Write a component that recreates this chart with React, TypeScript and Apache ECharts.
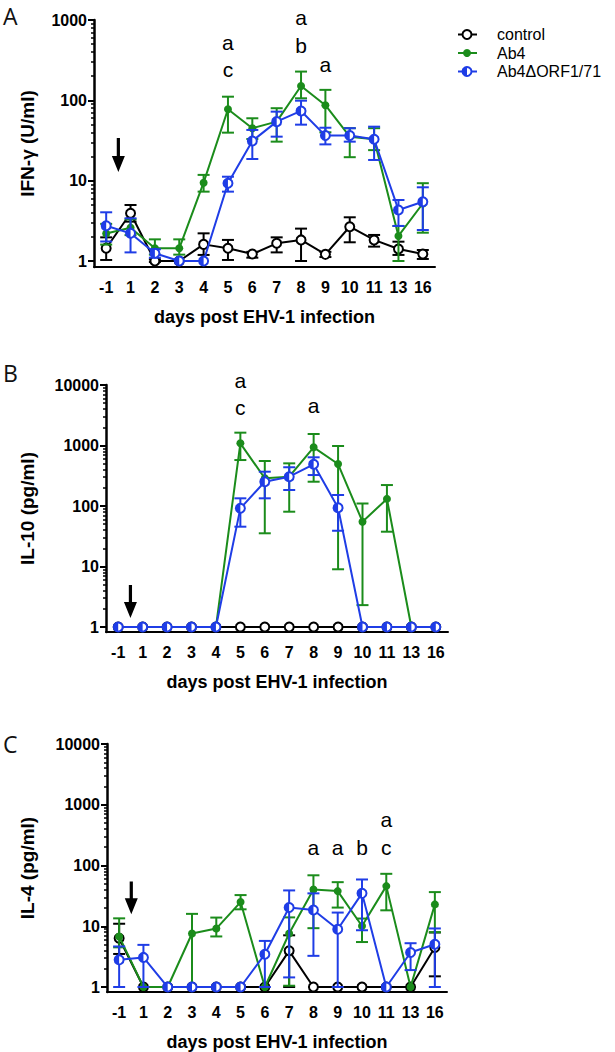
import React, { useEffect, useRef } from 'react';
import * as echarts from 'echarts';

const FONT = '"Liberation Sans", Arial, sans-serif';

const days = ['-1', '1', '2', '3', '4', '5', '6', '7', '8', '9', '10', '11', '13', '16'];
const groupNames = ['control', 'Ab4', 'Ab4ΔORF1/71'];
const groupColors = ['#000000', '#1b8c1b', '#1f3de6'];
const xAxisName = 'days post EHV-1 infection';
const panelLetters = ['A', 'B', 'C'];
const yAxisNames = ['IFN-γ (U/ml)', 'IL-10 (pg/ml)', 'IL-4 (pg/ml)'];

// ---- Panel A: IFN-γ ----
const ifnTicks = [1, 10, 100, 1000];
const ifnControlMean = [1.44, 3.93, 1.0, 1.0, 1.61, 1.44, 1.22, 1.66, 1.83, 1.21, 2.67, 1.83, 1.41, 1.22];
const ifnControlLow = [1.03, 3.09, 0.97, 1.0, 1.19, 1.03, 1.1, 1.28, 1.0, 1.12, 1.71, 1.51, 1.19, 1.06];
const ifnControlHigh = [1.97, 4.98, 1.05, 1.0, 2.21, 1.83, 1.3, 1.97, 2.53, 1.3, 3.5, 2.11, 1.74, 1.37];
const ifnAb4Mean = [2.2, 2.6, 1.44, 1.44, 9.44, 77.4, 44.9, 54.3, 151, 86.9, 35.3, 32.8, 2.05, 5.2];
const ifnAb4Low = [1.6, 2.1, 1.2, 1.2, 7.3, 39.6, 33, 30.6, 106, 40, 19.6, 24, 1.0, 2.25];
const ifnAb4High = [2.9, 3.3, 1.86, 1.86, 11.8, 111, 59.8, 79.8, 228, 135, 45, 45, 2.73, 9.3];
const ifnMutMean = [2.75, 2.21, 1.25, 1.0, 1.0, 9.28, 31.2, 54.3, 73.8, 36.4, 36.4, 32.8, 4.32, 5.47];
const ifnMutLow = [1.75, 1.28, 1.1, 1.0, 1.0, 7.3, 18.6, 35.3, 49.8, 28.3, 30.6, 18.1, 2.73, 2.43];
const ifnMutHigh = [4.04, 3.4, 1.4, 1.0, 1.0, 11.2, 42.8, 72.3, 99, 45.6, 45, 47, 5.75, 8.27];
const ifnNoteDays = ['5', '5', '8', '8', '9'];
const ifnNoteValues = [519, 240, 1062, 476, 276];
const ifnNoteTexts = ['a', 'c', 'a', 'b', 'a'];
const ifnArrow = [34, 12.8];

// ---- Panel B: IL-10 ----
const il10Ticks = [1, 10, 100, 1000, 10000];
const il10ControlMean = [1, 1, 1, 1, 1, 1, 1, 1, 1, 1, 1, 1, 1, 1];
const il10ControlLow = [1, 1, 1, 1, 1, 1, 1, 1, 1, 1, 1, 1, 1, 1];
const il10ControlHigh = [1, 1, 1, 1, 1, 1, 1, 1, 1, 1, 1, 1, 1, 1];
const il10Ab4Mean = [1, 1, 1, 1, 1, 1087, 287, 305, 933, 494, 55, 131, 1, 1];
const il10Ab4Low = [1, 1, 1, 1, 1, 575, 35.4, 80.5, 252, 9.0, 2.3, 37.6, 1, 1];
const il10Ab4High = [1, 1, 1, 1, 1, 1630, 554, 507, 1550, 981, 110, 222, 1, 1];
const il10MutMean = [1, 1, 1, 1, 1, 91.5, 252, 305, 489, 93.7, 1, 1, 1, 1];
const il10MutLow = [1, 1, 1, 1, 1, 45.5, 134, 184, 325, 39, 1, 1, 1, 1];
const il10MutHigh = [1, 1, 1, 1, 1, 134, 369, 437, 638, 152, 1, 1, 1, 1];
const il10NoteDays = ['5', '5', '8'];
const il10NoteValues = [11780, 4217, 4670];
const il10NoteTexts = ['a', 'c', 'a'];
const il10Arrow = [4.94, 1.41];

// ---- Panel C: IL-4 ----
const il4Ticks = [1, 10, 100, 1000, 10000];
const il4ControlMean = [6.36, 1, 1, 1, 1, 1, 1, 3.94, 1, 1, 1, 1, 1, 4.47];
const il4ControlLow = [3.5, 1, 1, 1, 1, 1, 1, 1, 1, 1, 1, 1, 1, 1.5];
const il4ControlHigh = [11, 1, 1, 1, 1, 1, 1, 7.1, 1, 1, 1, 1, 1, 7.9];
const il4Ab4Mean = [6.8, 1, 1, 7.6, 9.17, 25, 1, 7.6, 40.4, 37.9, 10.1, 45.8, 1, 22.9];
const il4Ab4Low = [4.5, 1, 1, 1, 6.8, 19, 1, 1.05, 9.3, 20.3, 5.5, 18.3, 1, 8];
const il4Ab4High = [13.5, 1, 1, 16, 13.9, 32.6, 1, 14, 69, 53.2, 13.4, 73, 1, 36.5];
const il4MutMean = [2.8, 3.07, 1, 1, 1, 1, 3.47, 20.3, 18.5, 8.93, 34.8, 1, 3.7, 5.07];
const il4MutLow = [1, 1, 1, 1, 1, 1, 1, 1.44, 3.26, 1, 8.6, 1, 1.9, 1];
const il4MutHigh = [4.65, 4.94, 1, 1, 1, 1, 5.74, 38.9, 34.8, 16.8, 58.9, 1, 5.26, 9.2];
const il4NoteDays = ['8', '9', '10', '11', '11'];
const il4NoteValues = [195, 195, 195, 568, 195];
const il4NoteTexts = ['a', 'a', 'b', 'a', 'c'];
const il4Arrow = [54.7, 15.7];

const panels = [
  {
    ticks: ifnTicks,
    groups: [
      [ifnControlMean, ifnControlLow, ifnControlHigh],
      [ifnAb4Mean, ifnAb4Low, ifnAb4High],
      [ifnMutMean, ifnMutLow, ifnMutHigh],
    ],
    noteDays: ifnNoteDays, noteValues: ifnNoteValues, noteTexts: ifnNoteTexts, arrow: ifnArrow,
  },
  {
    ticks: il10Ticks,
    groups: [
      [il10ControlMean, il10ControlLow, il10ControlHigh],
      [il10Ab4Mean, il10Ab4Low, il10Ab4High],
      [il10MutMean, il10MutLow, il10MutHigh],
    ],
    noteDays: il10NoteDays, noteValues: il10NoteValues, noteTexts: il10NoteTexts, arrow: il10Arrow,
  },
  {
    ticks: il4Ticks,
    groups: [
      [il4ControlMean, il4ControlLow, il4ControlHigh],
      [il4Ab4Mean, il4Ab4Low, il4Ab4High],
      [il4MutMean, il4MutLow, il4MutHigh],
    ],
    noteDays: il4NoteDays, noteValues: il4NoteValues, noteTexts: il4NoteTexts, arrow: il4Arrow,
  },
];

// layout (pixels)
const layout = [
  { left: 94, top: 20, width: 341, height: 247, min: 0.842, nameGap: 57, letterY: 17 },
  { left: 106, top: 385, width: 342, height: 247, min: 0.827, nameGap: 69, letterY: 374 },
  { left: 107, top: 744, width: 340, height: 249, min: 0.828, nameGap: 70, letterY: 745 },
];

function minorTickValues(max: number): number[] {
  const out: number[] = [];
  for (let d = 1; d < max; d *= 10) {
    for (let k = 2; k <= 9; k++) out.push(d * k);
  }
  return out;
}

function errRender(color: string) {
  return (params: any, api: any) => {
    const x = api.value(0);
    const p1 = api.coord([x, api.value(1)]);
    const p2 = api.coord([x, api.value(2)]);
    const hw = 6;
    const st = { stroke: color, lineWidth: 2 };
    return {
      type: 'group',
      children: [
        { type: 'line', shape: { x1: p1[0], y1: p1[1], x2: p2[0], y2: p2[1] }, style: st },
        { type: 'line', shape: { x1: p1[0] - hw, y1: p1[1], x2: p1[0] + hw, y2: p1[1] }, style: st },
        { type: 'line', shape: { x1: p2[0] - hw, y1: p2[1], x2: p2[0] + hw, y2: p2[1] }, style: st },
      ],
    };
  };
}

function buildOption() {
  const grid: any[] = [];
  const xAxis: any[] = [];
  const yAxis: any[] = [];
  const series: any[] = [];
  const graphic: any[] = [];

  panels.forEach((p, i) => {
    const L = layout[i];
    const max = p.ticks[p.ticks.length - 1];
    grid.push({ left: L.left, top: L.top, width: L.width, height: L.height, containLabel: false });
    xAxis.push({
      type: 'category', gridIndex: i, data: days, boundaryGap: true,
      name: xAxisName, nameLocation: 'middle', nameGap: 41,
      nameTextStyle: { fontFamily: FONT, fontWeight: 'bold', fontSize: 18, color: '#000' },
      axisLine: { lineStyle: { color: '#000', width: 2 } },
      axisTick: { alignWithLabel: true, length: 5, lineStyle: { color: '#000', width: 2 } },
      axisLabel: { interval: 0, fontFamily: FONT, fontWeight: 'bold', fontSize: 16, color: '#000', margin: 12 },
      splitLine: { show: false },
    });
    yAxis.push({
      type: 'log', logBase: 10, gridIndex: i, min: L.min, max, position: 'left',
      name: yAxisNames[i], nameLocation: 'middle', nameGap: L.nameGap,
      nameTextStyle: { fontFamily: FONT, fontWeight: 'bold', fontSize: 19, color: '#000' },
      axisLine: { show: true, lineStyle: { color: '#000', width: 2.5 } },
      axisTick: { show: true, length: 6, customValues: p.ticks, lineStyle: { color: '#000', width: 2 } },
      axisLabel: {
        customValues: p.ticks, fontFamily: FONT, fontWeight: 'bold', fontSize: 16, color: '#000', margin: 7,
        formatter: (v: number) => String(Math.round(v)),
      },
      splitLine: { show: false },
    });
    yAxis.push({
      type: 'log', logBase: 10, gridIndex: i, min: L.min, max, position: 'left',
      axisLine: { show: false },
      axisTick: { show: true, length: 3, customValues: minorTickValues(max), lineStyle: { color: '#000', width: 1.5 } },
      axisLabel: { show: false },
      splitLine: { show: false },
    });
    const yi = 2 * i;

    p.groups.forEach((g, gi) => {
      const [mean, low, high] = g;
      const color = groupColors[gi];
      const errData = mean
        .map((_, k) => [k, low[k], high[k]])
        .filter((d) => d[2] / d[1] > 1.03);
      series.push({
        type: 'custom', xAxisIndex: i, yAxisIndex: yi, z: 1 + gi * 2, silent: true, clip: false,
        data: errData, encode: { x: 0, y: [1, 2] }, renderItem: errRender(color),
      });
      series.push({
        type: 'line', name: groupNames[gi], xAxisIndex: i, yAxisIndex: yi, z: 2 + gi * 2, silent: true,
        data: mean,
        symbol: gi === 1 ? 'circle' : 'emptyCircle',
        symbolSize: gi === 1 ? 8 : 9,
        showAllSymbol: true,
        lineStyle: { color, width: 2 },
        itemStyle: { color, borderColor: color, borderWidth: gi === 1 ? 0 : 2 },
      });
      if (gi === 2) {
        series.push({
          type: 'custom', xAxisIndex: i, yAxisIndex: yi, z: 7, silent: true, clip: false,
          data: mean.map((m, k) => [k, m]), encode: { x: 0, y: 1 },
          renderItem: (params: any, api: any) => {
            const c = api.coord([api.value(0), api.value(1)]);
            return {
              type: 'sector',
              shape: { cx: c[0], cy: c[1], r: 4.5, r0: 0, startAngle: Math.PI / 2, endAngle: (3 * Math.PI) / 2 },
              style: { fill: color },
            };
          },
        });
      }
    });

    // significance letters
    const notes = p.noteTexts;
    series.push({
      type: 'custom', xAxisIndex: i, yAxisIndex: yi, z: 8, silent: true, clip: false,
      data: p.noteDays.map((d, k) => [days.indexOf(d), p.noteValues[k]]), encode: { x: 0, y: 1 },
      renderItem: (params: any, api: any) => {
        const c = api.coord([api.value(0), api.value(1)]);
        return {
          type: 'text', x: c[0], y: c[1],
          style: { text: notes[params.dataIndex], fontFamily: FONT, fontSize: 21, fill: '#000', align: 'center', verticalAlign: 'middle' },
        };
      },
    });

    // infection arrow (between day -1 and day 1)
    series.push({
      type: 'custom', xAxisIndex: i, yAxisIndex: yi, z: 8, silent: true, clip: false,
      data: [[0, p.arrow[0], p.arrow[1]]], encode: { x: 0, y: [1, 2] },
      renderItem: (params: any, api: any) => {
        const a = api.coord([0, api.value(1)]);
        const b = api.coord([1, api.value(2)]);
        const x = (a[0] + b[0]) / 2;
        const top = a[1];
        const tip = b[1];
        const h = 16;
        const hw = 6.5;
        const sw = 1.6;
        return {
          type: 'polygon',
          shape: {
            points: [
              [x - sw, top], [x + sw, top], [x + sw, tip - h], [x + hw, tip - h],
              [x, tip], [x - hw, tip - h], [x - sw, tip - h],
            ],
          },
          style: { fill: '#000' },
        };
      },
    });

    graphic.push({
      type: 'text', left: 3, top: L.letterY - 13,
      style: { text: panelLetters[i], fontFamily: '"Open Sans", sans-serif', fontSize: 23, fill: '#111' },
    });
  });

  // legend
  const legendYs = [34.5, 53, 71.5];
  groupNames.forEach((n, gi) => {
    const color = groupColors[gi];
    const y = legendYs[gi];
    const children: any[] = [
      { type: 'line', shape: { x1: 458, y1: y, x2: 477, y2: y }, style: { stroke: color, lineWidth: 2 } },
    ];
    if (gi === 1) {
      children.push({ type: 'circle', shape: { cx: 467, cy: y, r: 4 }, style: { fill: color } });
    } else {
      children.push({ type: 'circle', shape: { cx: 467, cy: y, r: 4.5 }, style: { fill: '#fff', stroke: color, lineWidth: 2 } });
      if (gi === 2) {
        children.push({
          type: 'sector',
          shape: { cx: 467, cy: y, r: 4.5, r0: 0, startAngle: Math.PI / 2, endAngle: (3 * Math.PI) / 2 },
          style: { fill: color },
        });
      }
    }
    children.push({
      type: 'text', x: 497, y,
      style: { text: n, fontFamily: FONT, fontSize: 16, lineHeight: 16, fill: '#000', verticalAlign: 'middle', align: 'left' },
    });
    graphic.push({ type: 'group', children });
  });

  return {
    animation: false,
    backgroundColor: '#ffffff',
    textStyle: { fontFamily: FONT },
    grid,
    xAxis,
    yAxis,
    series,
    graphic,
  };
}

export default function App() {
  const ref = useRef<HTMLDivElement>(null);
  useEffect(() => {
    if (!ref.current) return;
    const chart = echarts.init(ref.current, undefined, { renderer: 'svg' });
    chart.setOption(buildOption() as any);
    return () => chart.dispose();
  }, []);
  return (
    <div
      ref={ref}
      style={{ position: 'absolute', left: 0, top: 0, width: 615, height: 1052, background: '#fff' }}
    />
  );
}
